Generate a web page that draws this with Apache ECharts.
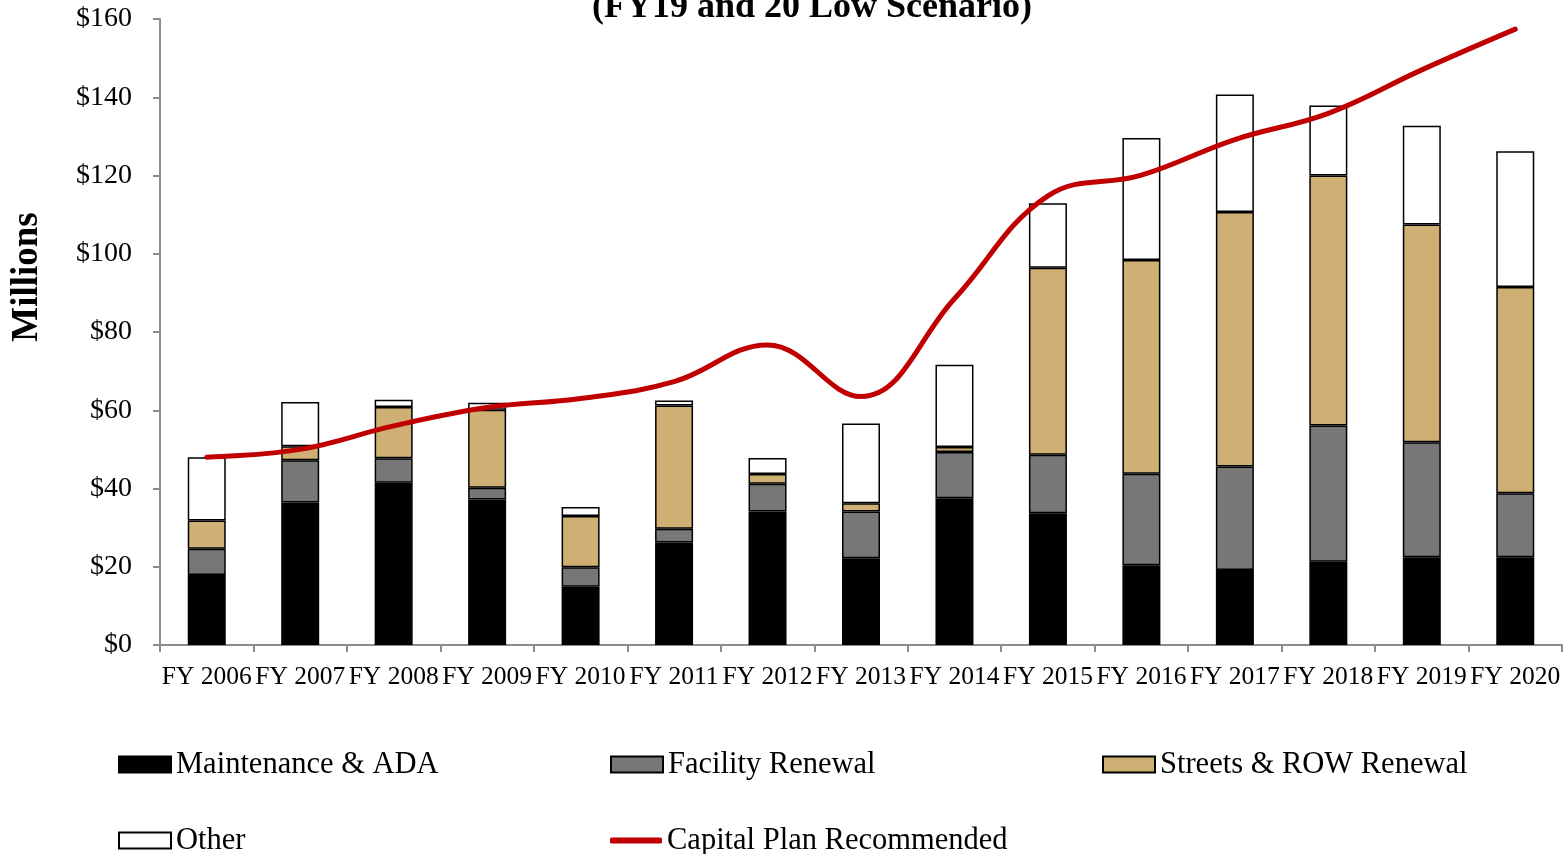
<!DOCTYPE html>
<html>
<head>
<meta charset="utf-8">
<script src="https://cdn.jsdelivr.net/npm/echarts@6/dist/echarts.min.js"></script>
<style>html,body{margin:0;padding:0;background:#fff;}#c{width:1567px;height:854px;}</style>
</head>
<body>
<div id="c"></div>
<script>
var categories = ['FY 2006','FY 2007','FY 2008','FY 2009','FY 2010','FY 2011','FY 2012','FY 2013','FY 2014','FY 2015','FY 2016','FY 2017','FY 2018','FY 2019','FY 2020'];
var maintenance = [17.9, 36.4, 41.5, 37.2, 14.9, 26.2, 34.1, 22.2, 37.5, 33.7, 20.4, 19.2, 21.3, 22.4, 22.4];
var facility    = [6.7, 10.8, 6.2, 3.0, 5.0, 3.5, 7.1, 11.9, 11.8, 14.9, 23.4, 26.4, 34.8, 29.4, 16.4];
var streets     = [7.2, 3.6, 13.1, 19.9, 13.1, 31.5, 2.5, 2.1, 1.3, 47.8, 54.6, 65.1, 63.9, 55.7, 52.7];
var other       = [16.2, 11.3, 1.9, 1.8, 2.3, 1.3, 4.1, 20.4, 21.0, 16.5, 31.2, 30.0, 17.9, 25.2, 34.7];
var capitalPlan = [48.0, 50.0, 56.0, 60.7, 63.0, 67.3, 76.7, 63.5, 88.5, 114.8, 120.1, 129.2, 135.9, 147.0, 157.4];
var yTicks = [0, 20, 40, 60, 80, 100, 120, 140, 160];

var FONT = '"Liberation Serif", "DejaVu Serif", serif';
var chart = echarts.init(document.getElementById('c'), null, {renderer: 'canvas'});

function barSeries(name, data, color) {
  return {
    name: name, type: 'bar', stack: 'total', data: data, barWidth: 38,
    itemStyle: {color: color, borderColor: '#000', borderWidth: 1.5},
    emphasis: {disabled: true}
  };
}
function legendItem(name, left, top, icon, extra) {
  var l = {
    data: [{name: name, icon: icon}], left: left, top: top, orient: 'horizontal',
    itemWidth: 52, itemHeight: 16, padding: 0, selectedMode: false,
    textStyle: {fontFamily: FONT, fontSize: 30.5, color: '#000'}
  };
  if (extra) for (var k in extra) l[k] = extra[k];
  return l;
}

chart.setOption({
  animation: false,
  backgroundColor: '#fff',
  title: {
    text: '(FY19 and 20 Low Scenario)', left: 807, textAlign: 'center', top: -15,
    textStyle: {fontFamily: FONT, fontSize: 36, fontWeight: 'bold', color: '#000'}
  },
  graphic: [{
    type: 'text', x: 27, y: 277, rotation: Math.PI / 2,
    style: {text: 'Millions', font: 'bold 37px ' + FONT, fill: '#000', textAlign: 'center', textVerticalAlign: 'middle'}
  }],
  legend: [
    legendItem('Maintenance & ADA', 118, 749, 'rect'),
    legendItem('Facility Renewal', 610, 749, 'rect'),
    legendItem('Streets & ROW Renewal', 1102, 749, 'rect'),
    legendItem('Other', 118, 825, 'rect'),
    legendItem('Capital Plan Recommended', 610, 825, 'roundRect', {itemStyle: {color: '#C00000', borderWidth: 0}, itemHeight: 6})
  ],
  grid: {left: 160, right: 5, top: 19, bottom: 209, containLabel: false},
  xAxis: {
    type: 'category', data: categories, boundaryGap: true,
    axisLine: {lineStyle: {color: '#8c8c8c', width: 2}},
    axisTick: {show: true, alignWithLabel: false, length: 7, lineStyle: {color: '#8c8c8c', width: 2}},
    axisLabel: {fontFamily: FONT, fontSize: 25.5, color: '#000', margin: 19, interval: 0}
  },
  yAxis: {
    type: 'value', min: yTicks[0], max: yTicks[yTicks.length - 1], interval: 20,
    splitLine: {show: false},
    axisLine: {show: true, lineStyle: {color: '#8c8c8c', width: 2}},
    axisTick: {show: true, length: 7, lineStyle: {color: '#8c8c8c', width: 2}},
    axisLabel: {fontFamily: FONT, fontSize: 28, color: '#000', margin: 28, formatter: function (v) { return '$' + v; }}
  },
  series: [
    barSeries('Maintenance & ADA', maintenance, '#000000'),
    barSeries('Facility Renewal', facility, '#777777'),
    barSeries('Streets & ROW Renewal', streets, '#CFAF73'),
    barSeries('Other', other, '#FFFFFF'),
    {
      name: 'Capital Plan Recommended', type: 'line', data: capitalPlan, smooth: 0.4,
      symbol: 'none', z: 5,
      lineStyle: {color: '#C00000', width: 5, cap: 'round'},
      itemStyle: {color: '#C00000'},
      emphasis: {disabled: true}
    }
  ]
});
</script>
</body>
</html>
